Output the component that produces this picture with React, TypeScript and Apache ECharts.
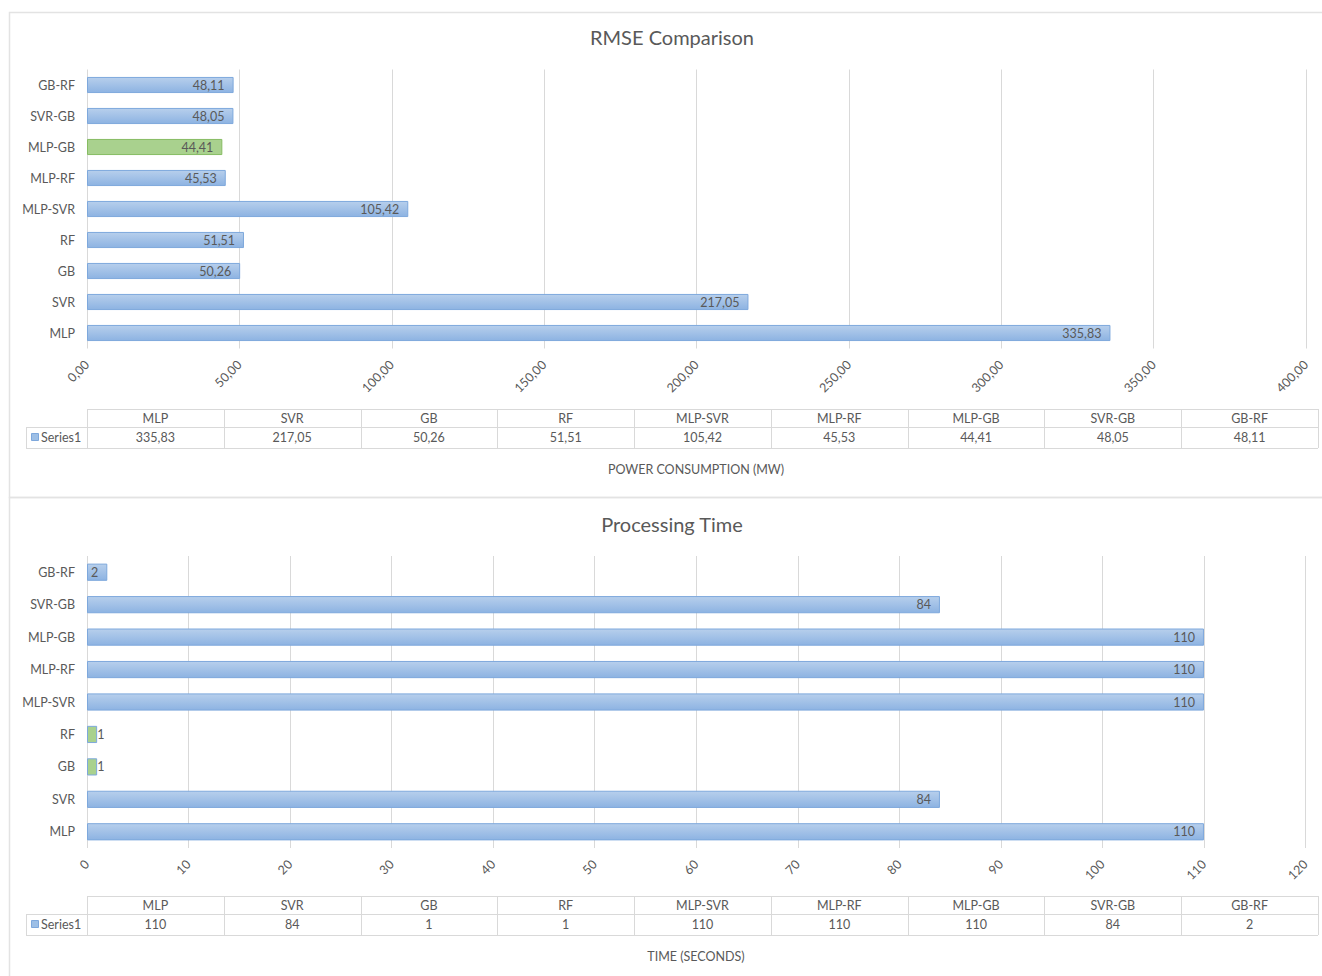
import React, { useEffect, useRef } from "react";
import * as echarts from "echarts";

const categories = ["MLP", "SVR", "GB", "RF", "MLP-SVR", "MLP-RF", "MLP-GB", "SVR-GB", "GB-RF"];
const rmseValues = [335.83, 217.05, 50.26, 51.51, 105.42, 45.53, 44.41, 48.05, 48.11];
const timeValues = [110, 84, 1, 1, 110, 110, 110, 84, 2];
const seriesName = "Series1";
const rmseTitle = "RMSE Comparison";
const timeTitle = "Processing Time";
const rmseAxisTitle = "POWER CONSUMPTION (MW)";
const timeAxisTitle = "TIME (SECONDS)";
const rmseAxis = { min: 0, max: 400, interval: 50 };
const timeAxis = { min: 0, max: 120, interval: 10 };

const FONT = "Lato, 'Liberation Sans', sans-serif";
const TXT = "#595959";
const GRIDC = "#D9D9D9";

const fmtComma = (v: number) => v.toFixed(2).replace(".", ",");
const fmtInt = (v: number) => String(v);

const blueFill = new echarts.graphic.LinearGradient(0, 0, 0, 1, [
  { offset: 0, color: "#B7CFEC" },
  { offset: 1, color: "#8DB3E2" },
]);
const greenFill = "#A9D18E";

function buildData(values: number[], max: number, fmt: (v: number) => string, greenBorder: string) {
  const minV = Math.min(...values);
  return values.map((v) => {
    const isMin = v === minV;
    const small = v / max < 0.012;
    return {
      value: v,
      itemStyle: {
        color: isMin ? greenFill : blueFill,
        borderColor: isMin ? greenBorder : "#7EA8DC",
        borderWidth: 1,
      },
      label: {
        show: true,
        position: small ? "right" : "insideRight",
        distance: small ? 0 : 9,
        color: TXT,
        fontFamily: FONT,
        fontSize: 12.5,
        formatter: () => fmt(v),
      },
    };
  });
}

function buildTable(top: number, values: number[], fmt: (v: number) => string) {
  const left = 87;
  const right = 1318;
  const colW = (right - left) / categories.length;
  const h1 = 18;
  const h2 = 39;
  const els: any[] = [];
  const line = (x1: number, y1: number, x2: number, y2: number) => ({
    type: "line",
    silent: true,
    shape: { x1, y1, x2, y2 },
    style: { stroke: GRIDC, lineWidth: 1 },
  });
  els.push(line(left, top + 0.5, right, top + 0.5));
  els.push(line(26, top + h1 + 0.5, right, top + h1 + 0.5));
  els.push(line(26, top + h2 + 0.5, right, top + h2 + 0.5));
  els.push(line(26.5, top + h1, 26.5, top + h2));
  for (let i = 0; i <= categories.length; i++) {
    const x = Math.round(left + i * colW) + 0.5;
    els.push(line(x, top, x, top + h2));
  }
  categories.forEach((c, i) => {
    const cx = left + (i + 0.5) * colW;
    els.push({
      type: "text",
      silent: true,
      style: { text: c, x: cx, y: top + 9, fill: TXT, font: `12.5px ${FONT}`, align: "center", verticalAlign: "middle" },
    });
    els.push({
      type: "text",
      silent: true,
      style: { text: fmt(values[i]), x: cx, y: top + 28, fill: TXT, font: `12.5px ${FONT}`, align: "center", verticalAlign: "middle" },
    });
  });
  els.push({
    type: "rect",
    silent: true,
    shape: { x: 31.5, y: top + 24.5, width: 7, height: 7 },
    style: { fill: "#9DBFE6", stroke: "#7EA8DC", lineWidth: 1 },
  });
  els.push({
    type: "text",
    silent: true,
    style: { text: seriesName, x: 41, y: top + 28, fill: TXT, font: `12.5px ${FONT}`, align: "left", verticalAlign: "middle" },
  });
  return els;
}

export default function App() {
  const ref = useRef<HTMLDivElement>(null);
  useEffect(() => {
    if (!ref.current) return;
    const chart = echarts.init(ref.current, undefined, { renderer: "svg" });
    const xAxisCommon = (idx: number, ax: { min: number; max: number; interval: number }, fmt: (v: number) => string) => ({
      type: "value",
      gridIndex: idx,
      min: ax.min,
      max: ax.max,
      interval: ax.interval,
      axisLine: { show: false },
      axisTick: { show: false },
      splitLine: { show: true, lineStyle: { color: GRIDC, width: 1 } },
      axisLabel: {
        rotate: 45,
        margin: 14,
        color: TXT,
        fontFamily: FONT,
        fontSize: 12.5,
        formatter: (v: number) => fmt(v),
      },
    });
    const yAxisCommon = (idx: number) => ({
      type: "category",
      gridIndex: idx,
      data: categories,
      axisLine: { show: false },
      axisTick: { show: false },
      splitLine: { show: false },
      axisLabel: { color: TXT, fontFamily: FONT, fontSize: 12.5, margin: 12 },
    });
    chart.setOption({
      animation: false,
      backgroundColor: "#FFFFFF",
      textStyle: { fontFamily: FONT },
      grid: [
        { left: 87, right: 16, top: 69.5, height: 279, containLabel: false },
        { left: 87, right: 16.5, top: 556, height: 292, containLabel: false },
      ],
      xAxis: [xAxisCommon(0, rmseAxis, fmtComma), xAxisCommon(1, timeAxis, fmtInt)],
      yAxis: [yAxisCommon(0), yAxisCommon(1)],
      series: [
        {
          type: "bar",
          name: seriesName,
          xAxisIndex: 0,
          yAxisIndex: 0,
          barCategoryGap: "48%",
          data: buildData(rmseValues, rmseAxis.max, fmtComma, "#86BC62"),
        },
        {
          type: "bar",
          name: seriesName,
          xAxisIndex: 1,
          yAxisIndex: 1,
          barCategoryGap: "47%",
          data: buildData(timeValues, timeAxis.max, fmtInt, "#7EA8DC"),
        },
      ],
      graphic: [
        {
          type: "rect",
          silent: true,
          shape: { x: 9.5, y: 12.5, width: 1400, height: 485 },
          style: { fill: "none", stroke: "#E3E3E3", lineWidth: 1.5 },
        },
        {
          type: "rect",
          silent: true,
          shape: { x: 9.5, y: 497.5, width: 1400, height: 600 },
          style: { fill: "none", stroke: "#E3E3E3", lineWidth: 1.5 },
        },
        {
          type: "text",
          silent: true,
          style: { text: rmseTitle, x: 672, y: 37, fill: TXT, font: `20px ${FONT}`, align: "center", verticalAlign: "middle" },
        },
        {
          type: "text",
          silent: true,
          style: { text: timeTitle, x: 672, y: 524, fill: TXT, font: `20px ${FONT}`, align: "center", verticalAlign: "middle" },
        },
        ...buildTable(409, rmseValues, fmtComma),
        ...buildTable(896, timeValues, fmtInt),
        {
          type: "text",
          silent: true,
          style: { text: rmseAxisTitle, x: 696, y: 469, fill: TXT, font: `12.5px ${FONT}`, align: "center", verticalAlign: "middle" },
        },
        {
          type: "text",
          silent: true,
          style: { text: timeAxisTitle, x: 696, y: 956, fill: TXT, font: `12.5px ${FONT}`, align: "center", verticalAlign: "middle" },
        },
      ],
    });
    return () => chart.dispose();
  }, []);
  return (
    <div
      ref={ref}
      style={{ position: "fixed", left: 0, top: 0, width: 1322, height: 976, background: "#fff" }}
    />
  );
}
